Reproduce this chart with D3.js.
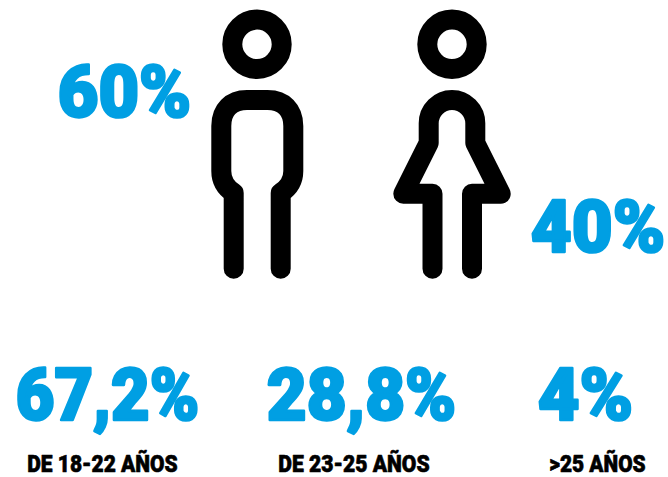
<!DOCTYPE html>
<html><head><meta charset="utf-8">
<script src="https://cdn.jsdelivr.net/npm/d3@7"></script>
<style>html,body{margin:0;padding:0;background:#fff}svg{display:block}</style>
</head><body><svg id="c" width="668" height="477"></svg>
<script>
const genderLabels = ["Hombres","Mujeres"];
const genderValues = [60,40];
const ageLabels = ["DE 18-22 AÑOS","DE 23-25 AÑOS",">25 AÑOS"];
const ageValues = ["67,2%","28,8%","4%"];

const svg = d3.select("#c");
const BLUE="#009FE3";
const font="Roboto,'Liberation Sans',sans-serif";

function fit(t,x0,x1,base,size,fill,sw){
  const el=svg.append("text").text(t)
    .attr("font-family",font).attr("font-weight",900).attr("font-size",size)
    .attr("fill",fill).attr("stroke",fill).attr("stroke-width",sw).attr("stroke-linejoin","round")
    .style("vector-effect","non-scaling-stroke");
  const b=el.node().getBBox();
  const sx=(x1-x0-sw)/b.width;
  el.attr("transform",`translate(${x0+sw/2-b.x*sx},${base}) scale(${sx},1)`);
}
const big=(t,x0,x1,base)=>fit(t,x0-2.5,x1+2.5,base,72,BLUE,2.6);
const small=(t,x0,x1,base)=>fit(t,x0,x1,base,23,"#000",.6);
big(genderValues[0]+"%",59,190,116.8);
big(genderValues[1]+"%",532,664,252);
big(ageValues[0],17,198,420.2);
big(ageValues[1],268,455,420.2);
big(ageValues[2],539,632,420.2);
small(ageLabels[0],27,178,471.5);
small(ageLabels[1],278,430,471.5);
small(ageLabels[2],549,646,471.5);

const stroke=g=>g.attr("fill","none").attr("stroke","#000").attr("stroke-width",20)
  .attr("stroke-linecap","round").attr("stroke-linejoin","round");
// Man
svg.append("circle").attr("cx",257).attr("cy",44.3).attr("r",24.7).call(stroke);
const m=d3.path();
m.moveTo(233.7,268.7);m.lineTo(233.7,193);
m.bezierCurveTo(226,188,221.3,181,221.3,171);
m.lineTo(221.3,126);m.bezierCurveTo(221.3,110,231,100,247,100);
m.lineTo(267.5,100);m.bezierCurveTo(283.5,100,293.3,110,293.3,126);
m.lineTo(293.3,171);m.bezierCurveTo(293.3,181,288.5,188,280.7,193);
m.lineTo(280.7,268.7);
svg.append("path").attr("d",m.toString()).call(stroke);
// Woman
svg.append("circle").attr("cx",452).attr("cy",44.3).attr("r",24.7).call(stroke);
const w=d3.path();
w.moveTo(432.5,268.7);w.lineTo(432.5,193.8);w.lineTo(403.3,193.8);w.lineTo(428.7,143);
w.lineTo(428.7,123.3);w.arc(452,123.3,23.3,Math.PI,2*Math.PI);
w.lineTo(475.3,143);w.lineTo(500.7,193.8);w.lineTo(472,193.8);w.lineTo(472,268.7);
svg.append("path").attr("d",w.toString()).call(stroke);
</script></body></html>
